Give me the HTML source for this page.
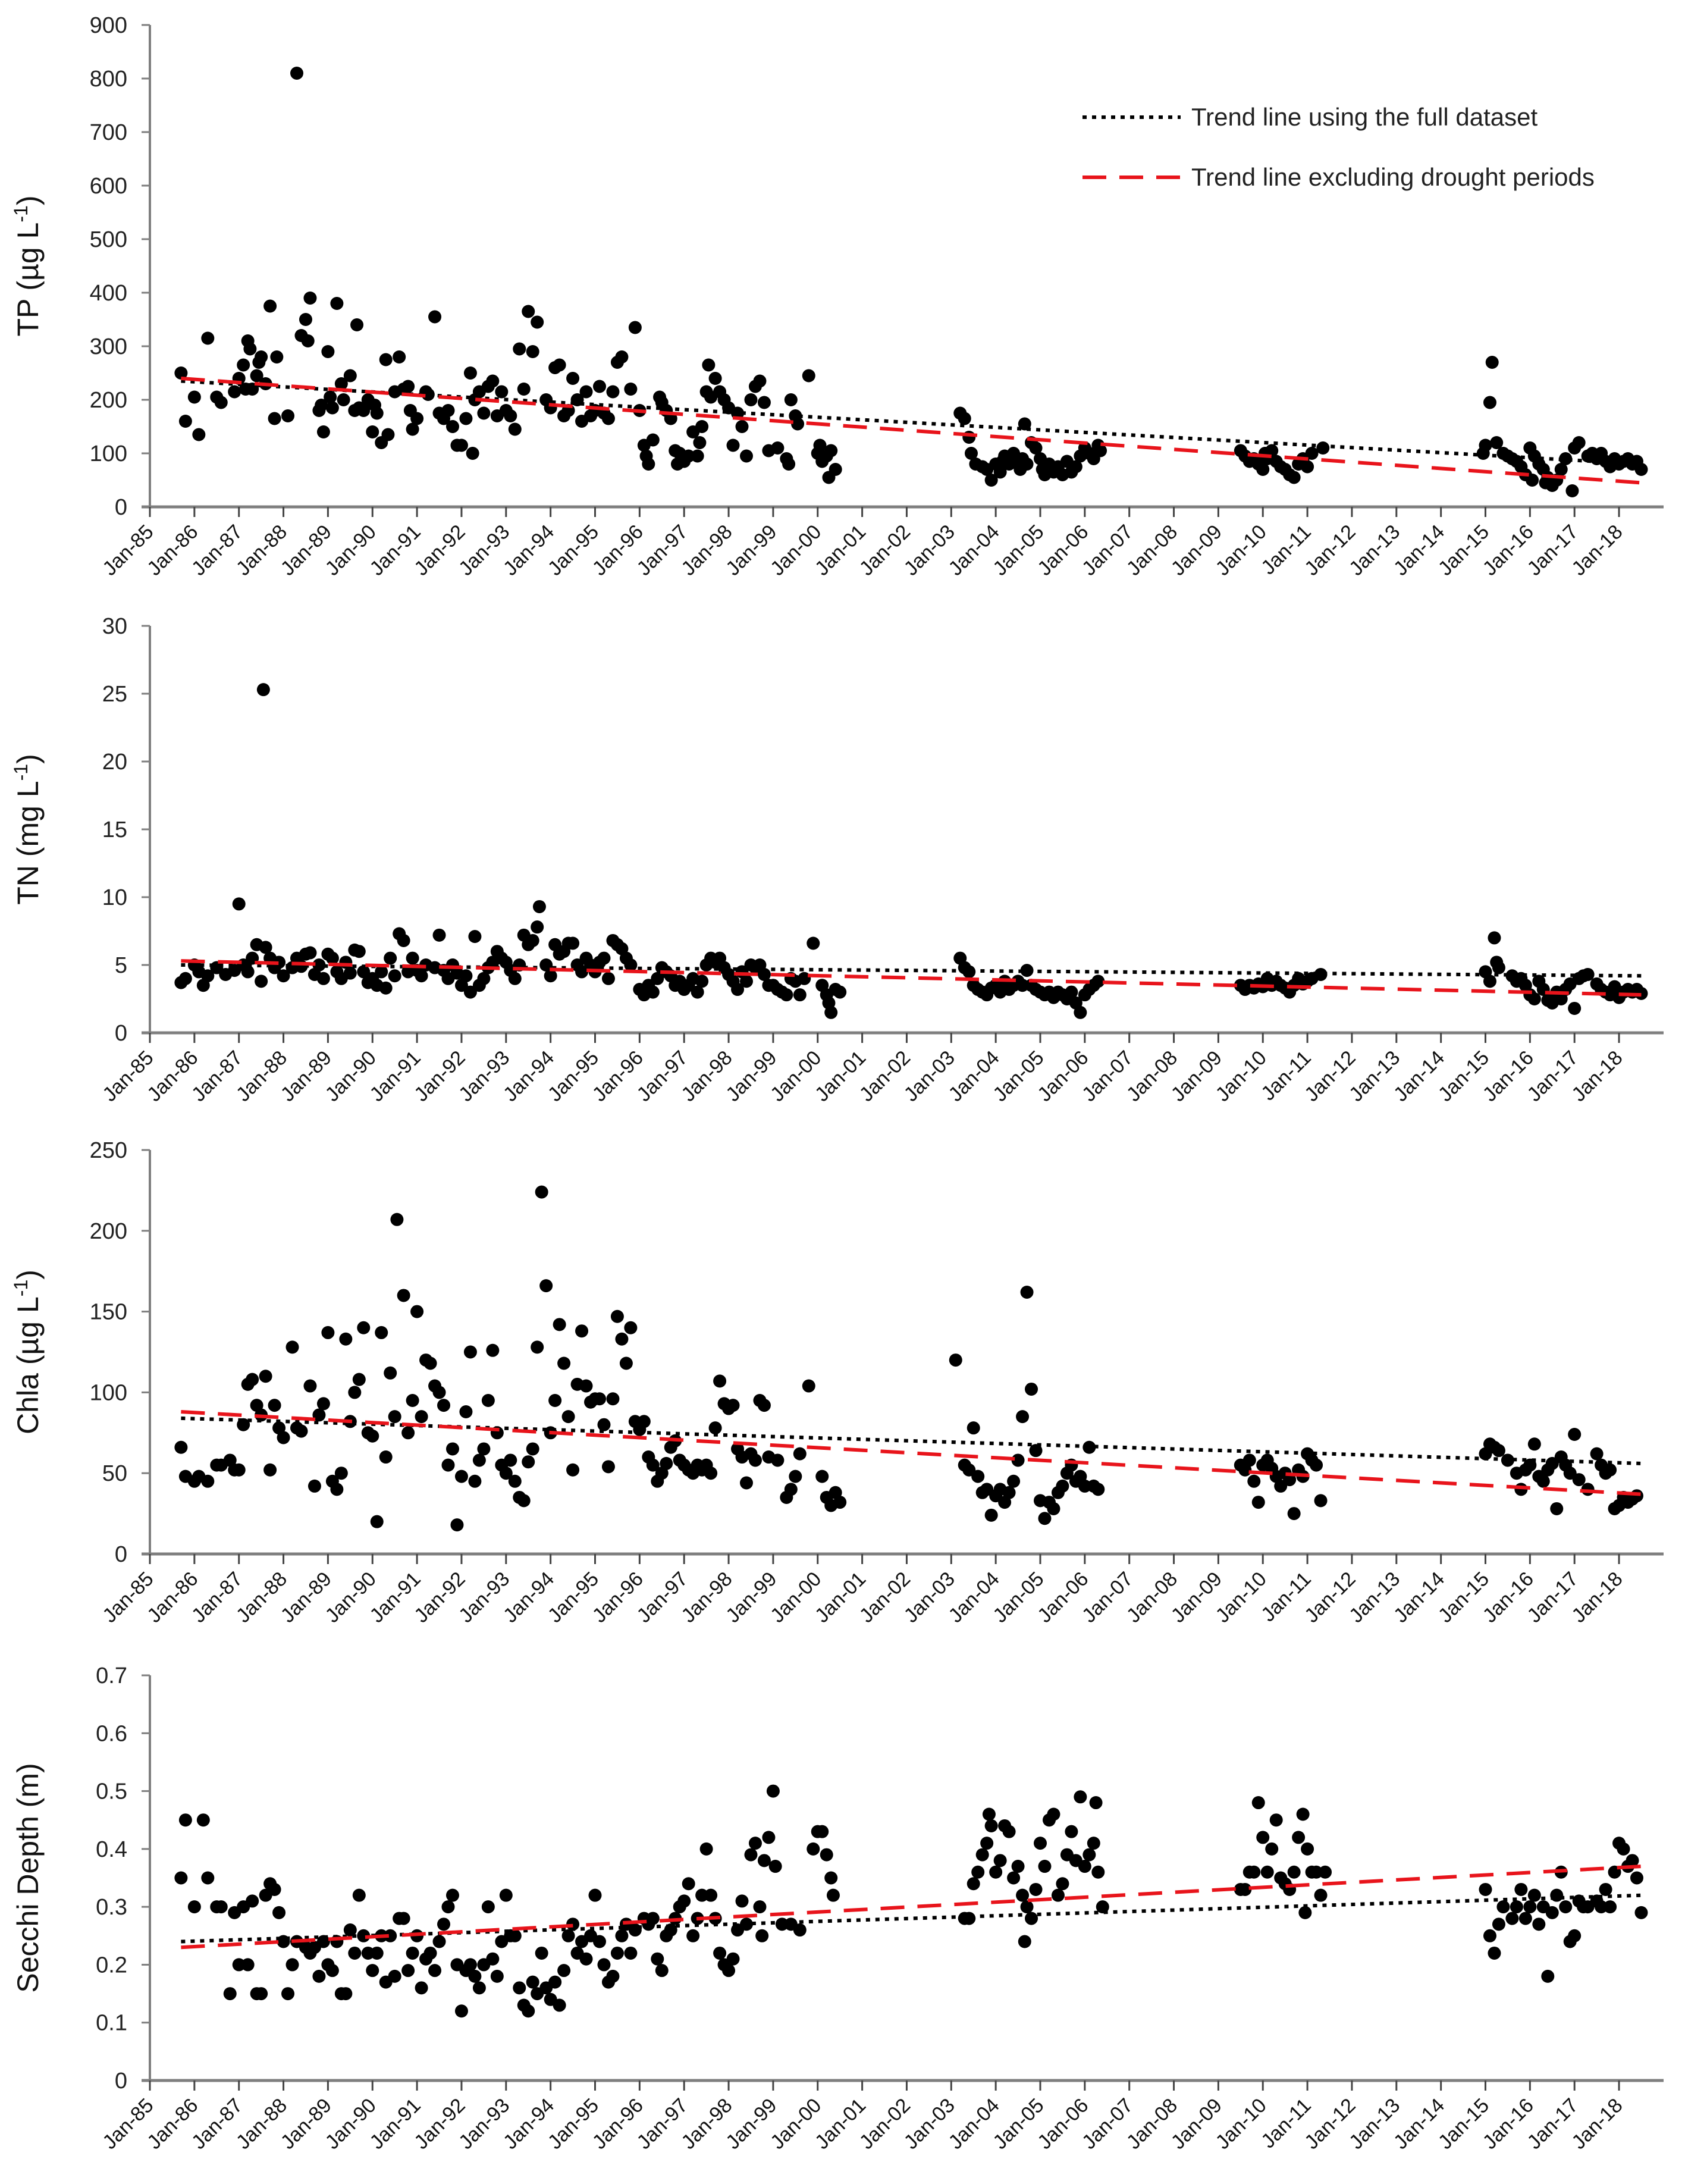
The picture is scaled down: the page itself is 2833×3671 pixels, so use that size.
<!DOCTYPE html>
<html><head><meta charset="utf-8"><style>
html,body{margin:0;padding:0;background:#fff}
svg{display:block}
text{font-family:"Liberation Sans",sans-serif}
</style></head><body>
<svg id="chart" width="2833" height="3671" viewBox="0 0 2833 3671" xmlns="http://www.w3.org/2000/svg">
<g id="legend">
<line x1="1820" y1="197" x2="1985" y2="197" stroke="#000" stroke-width="6" stroke-dasharray="7,9"/>
<text x="2003" y="211" font-size="42" fill="#222">Trend line using the full dataset</text>
<line x1="1820" y1="298" x2="1985" y2="298" stroke="#e8141b" stroke-width="6" stroke-dasharray="40,22"/>
<text x="2003" y="312" font-size="42" fill="#222">Trend line excluding drought periods</text>
</g>
</svg>
<script>
const years=['Jan-85','Jan-86','Jan-87','Jan-88','Jan-89','Jan-90','Jan-91','Jan-92','Jan-93','Jan-94','Jan-95','Jan-96','Jan-97','Jan-98','Jan-99','Jan-00','Jan-01','Jan-02','Jan-03','Jan-04','Jan-05','Jan-06','Jan-07','Jan-08','Jan-09','Jan-10','Jan-11','Jan-12','Jan-13','Jan-14','Jan-15','Jan-16','Jan-17','Jan-18'];

const tpData=[[1985.7,250],[1985.8,160],[1986.0,205],[1986.1,135],[1986.3,315],[1986.5,205],[1986.6,195],[1986.9,215],[1987.0,240],[1987.1,265],[1987.2,310],[1987.25,295],[1987.15,220],[1987.3,220],[1987.4,245],[1987.45,270],[1987.5,280],[1987.6,230],[1987.7,375],[1987.8,165],[1987.85,280],[1988.1,170],[1988.3,810],[1988.4,320],[1988.5,350],[1988.55,310],[1988.6,390],[1988.8,180],[1988.85,190],[1988.9,140],[1989.0,290],[1989.05,205],[1989.1,185],[1989.2,380],[1989.3,230],[1989.35,200],[1989.5,245],[1989.6,180],[1989.65,340],[1989.7,185],[1989.8,180],[1989.9,200],[1990.0,140],[1990.05,190],[1990.1,175],[1990.2,120],[1990.3,275],[1990.35,135],[1990.5,215],[1990.6,280],[1990.7,220],[1990.8,225],[1990.85,180],[1990.9,145],[1991.0,165],[1991.2,215],[1991.25,210],[1991.4,355],[1991.5,175],[1991.6,165],[1991.7,180],[1991.8,150],[1991.9,115],[1992.0,115],[1992.1,165],[1992.2,250],[1992.25,100],[1992.3,200],[1992.4,215],[1992.5,175],[1992.6,225],[1992.7,235],[1992.8,170],[1992.9,215],[1993.0,180],[1993.1,170],[1993.2,145],[1993.3,295],[1993.4,220],[1993.5,365],[1993.6,290],[1993.7,345],[1993.9,200],[1994.0,185],[1994.1,260],[1994.2,265],[1994.3,170],[1994.4,180],[1994.5,240],[1994.6,200],[1994.7,160],[1994.8,215],[1994.9,170],[1995.0,180],[1995.1,225],[1995.2,175],[1995.3,165],[1995.4,215],[1995.5,270],[1995.6,280],[1995.8,220],[1995.9,335],[1996.0,180],[1996.1,115],[1996.15,95],[1996.2,80],[1996.3,125],[1996.45,205],[1996.5,195],[1996.6,180],[1996.7,165],[1996.8,105],[1996.85,80],[1996.9,100],[1997.0,85],[1997.1,95],[1997.2,140],[1997.3,95],[1997.35,120],[1997.4,150],[1997.5,215],[1997.55,265],[1997.6,205],[1997.7,240],[1997.8,215],[1997.9,200],[1998.0,185],[1998.1,115],[1998.2,175],[1998.3,150],[1998.4,95],[1998.5,200],[1998.6,225],[1998.7,235],[1998.8,195],[1998.9,105],[1999.1,110],[1999.3,90],[1999.35,80],[1999.4,200],[1999.5,170],[1999.55,155],[1999.8,245],[2000.0,100],[2000.05,115],[2000.1,85],[2000.2,95],[2000.25,55],[2000.3,105],[2000.4,70],[2003.2,175],[2003.3,165],[2003.4,130],[2003.45,100],[2003.55,80],[2003.7,75],[2003.8,70],[2003.9,50],[2004.0,80],[2004.1,65],[2004.15,85],[2004.2,95],[2004.3,80],[2004.4,100],[2004.5,85],[2004.55,70],[2004.6,90],[2004.65,155],[2004.7,80],[2004.8,120],[2004.9,110],[2005.0,90],[2005.05,70],[2005.1,60],[2005.2,80],[2005.3,65],[2005.4,75],[2005.5,60],[2005.6,85],[2005.7,65],[2005.8,75],[2005.9,95],[2006.0,110],[2006.1,100],[2006.2,90],[2006.3,115],[2006.35,105],[2009.5,105],[2009.6,95],[2009.7,85],[2009.8,90],[2009.9,80],[2010.0,70],[2010.05,100],[2010.1,90],[2010.2,105],[2010.3,85],[2010.4,75],[2010.5,70],[2010.6,60],[2010.7,55],[2010.8,80],[2010.9,90],[2011.0,75],[2011.1,100],[2011.35,110],[2014.95,100],[2015.0,115],[2015.1,195],[2015.15,270],[2015.25,120],[2015.4,100],[2015.5,95],[2015.6,90],[2015.7,85],[2015.8,75],[2015.9,60],[2016.0,110],[2016.05,50],[2016.1,95],[2016.2,80],[2016.3,70],[2016.35,45],[2016.4,55],[2016.5,40],[2016.6,50],[2016.7,70],[2016.8,90],[2016.95,30],[2017.0,110],[2017.1,120],[2017.3,95],[2017.4,100],[2017.5,90],[2017.6,100],[2017.7,85],[2017.8,75],[2017.9,90],[2018.0,80],[2018.1,85],[2018.2,90],[2018.3,80],[2018.4,85],[2018.5,70]];

const tnData=[[1985.7,3.7],[1985.8,4.0],[1986.0,5.0],[1986.1,4.5],[1986.2,3.5],[1986.3,4.2],[1986.5,4.8],[1986.7,4.3],[1986.9,4.6],[1987.0,9.5],[1987.1,5.0],[1987.2,4.5],[1987.3,5.5],[1987.4,6.5],[1987.5,3.8],[1987.55,25.3],[1987.6,6.3],[1987.7,5.5],[1987.8,4.8],[1987.9,5.2],[1988.0,4.2],[1988.2,4.8],[1988.3,5.5],[1988.4,4.9],[1988.5,5.8],[1988.6,5.9],[1988.7,4.3],[1988.8,5.0],[1988.9,4.0],[1989.0,5.8],[1989.1,5.5],[1989.2,4.5],[1989.3,4.0],[1989.4,5.2],[1989.5,4.4],[1989.6,6.1],[1989.7,6.0],[1989.8,4.5],[1989.9,3.7],[1990.0,4.0],[1990.1,3.5],[1990.2,4.5],[1990.3,3.3],[1990.4,5.5],[1990.5,4.2],[1990.6,7.3],[1990.7,6.8],[1990.8,4.5],[1990.9,5.5],[1991.0,4.6],[1991.1,4.2],[1991.2,5.0],[1991.4,4.8],[1991.5,7.2],[1991.6,4.6],[1991.7,4.0],[1991.8,5.0],[1991.9,4.4],[1992.0,3.5],[1992.1,4.2],[1992.2,3.0],[1992.3,7.1],[1992.4,3.5],[1992.5,4.0],[1992.6,4.8],[1992.7,5.2],[1992.8,6.0],[1992.9,5.5],[1993.0,5.2],[1993.1,4.6],[1993.2,4.0],[1993.3,5.0],[1993.4,7.2],[1993.5,6.5],[1993.6,6.8],[1993.7,7.8],[1993.75,9.3],[1993.9,5.0],[1994.0,4.2],[1994.1,6.5],[1994.2,5.8],[1994.3,6.0],[1994.4,6.6],[1994.5,6.6],[1994.6,5.0],[1994.7,4.5],[1994.8,5.5],[1994.9,5.0],[1995.0,4.5],[1995.1,5.2],[1995.2,5.5],[1995.3,4.0],[1995.4,6.8],[1995.5,6.5],[1995.6,6.2],[1995.7,5.5],[1995.8,5.0],[1996.0,3.2],[1996.1,2.8],[1996.2,3.5],[1996.3,3.0],[1996.4,4.0],[1996.5,4.8],[1996.6,4.5],[1996.7,4.2],[1996.8,3.5],[1996.9,3.8],[1997.0,3.2],[1997.1,3.5],[1997.2,4.0],[1997.3,3.0],[1997.4,3.8],[1997.5,5.0],[1997.6,5.5],[1997.7,5.2],[1997.8,5.5],[1997.9,4.8],[1998.0,4.3],[1998.1,3.8],[1998.2,3.2],[1998.3,4.5],[1998.4,3.8],[1998.5,5.0],[1998.6,4.8],[1998.7,5.0],[1998.8,4.3],[1998.9,3.5],[1999.0,3.5],[1999.1,3.2],[1999.2,3.0],[1999.3,2.8],[1999.4,4.0],[1999.5,3.8],[1999.6,2.8],[1999.7,4.0],[1999.9,6.6],[2000.1,3.5],[2000.2,2.8],[2000.25,2.2],[2000.3,1.5],[2000.4,3.2],[2000.5,3.0],[2003.2,5.5],[2003.3,4.8],[2003.4,4.5],[2003.5,3.5],[2003.6,3.2],[2003.7,3.0],[2003.8,2.8],[2003.9,3.3],[2004.0,3.5],[2004.1,3.0],[2004.2,3.8],[2004.3,3.2],[2004.4,3.5],[2004.5,3.8],[2004.6,3.5],[2004.7,4.6],[2004.8,3.5],[2004.9,3.2],[2005.0,3.0],[2005.1,2.8],[2005.2,3.0],[2005.3,2.6],[2005.4,3.0],[2005.5,2.8],[2005.6,2.5],[2005.7,3.0],[2005.8,2.2],[2005.9,1.5],[2006.0,2.8],[2006.1,3.2],[2006.2,3.5],[2006.3,3.8],[2009.5,3.5],[2009.6,3.2],[2009.7,3.5],[2009.8,3.3],[2009.9,3.6],[2010.0,3.4],[2010.1,4.0],[2010.2,3.5],[2010.3,3.8],[2010.4,3.5],[2010.5,3.3],[2010.6,3.0],[2010.7,3.5],[2010.8,4.0],[2010.9,3.6],[2011.0,3.8],[2011.1,4.0],[2011.3,4.3],[2015.0,4.5],[2015.1,3.8],[2015.2,7.0],[2015.25,5.2],[2015.3,4.8],[2015.6,4.2],[2015.7,3.8],[2015.8,4.0],[2015.9,3.5],[2016.0,2.8],[2016.1,2.5],[2016.2,3.8],[2016.3,3.2],[2016.4,2.4],[2016.5,2.2],[2016.6,3.0],[2016.7,2.5],[2016.8,3.2],[2016.9,3.6],[2017.0,1.8],[2017.1,4.0],[2017.2,4.2],[2017.3,4.3],[2017.5,3.6],[2017.6,3.2],[2017.7,3.0],[2017.8,2.8],[2017.9,3.4],[2018.0,2.6],[2018.1,3.0],[2018.2,3.2],[2018.3,3.0],[2018.4,3.2],[2018.5,2.9]];

const chlaData=[[1985.7,66],[1985.8,48],[1986.0,45],[1986.1,48],[1986.3,45],[1986.5,55],[1986.6,55],[1986.8,58],[1986.9,52],[1987.0,52],[1987.1,80],[1987.2,105],[1987.3,108],[1987.4,92],[1987.5,86],[1987.6,110],[1987.7,52],[1987.8,92],[1987.9,78],[1988.0,72],[1988.2,128],[1988.3,78],[1988.4,76],[1988.6,104],[1988.7,42],[1988.8,86],[1988.9,93],[1989.0,137],[1989.1,45],[1989.2,40],[1989.3,50],[1989.4,133],[1989.5,82],[1989.6,100],[1989.7,108],[1989.8,140],[1989.9,75],[1990.0,73],[1990.1,20],[1990.2,137],[1990.3,60],[1990.4,112],[1990.5,85],[1990.55,207],[1990.7,160],[1990.8,75],[1990.9,95],[1991.0,150],[1991.1,85],[1991.2,120],[1991.3,118],[1991.4,104],[1991.5,100],[1991.6,92],[1991.7,55],[1991.8,65],[1991.9,18],[1992.0,48],[1992.1,88],[1992.2,125],[1992.3,45],[1992.4,58],[1992.5,65],[1992.6,95],[1992.7,126],[1992.8,75],[1992.9,55],[1993.0,50],[1993.1,58],[1993.2,45],[1993.3,35],[1993.4,33],[1993.5,57],[1993.6,65],[1993.7,128],[1993.8,224],[1993.9,166],[1994.0,75],[1994.1,95],[1994.2,142],[1994.3,118],[1994.4,85],[1994.5,52],[1994.6,105],[1994.7,138],[1994.8,104],[1994.9,94],[1995.0,96],[1995.1,96],[1995.2,80],[1995.3,54],[1995.4,96],[1995.5,147],[1995.6,133],[1995.7,118],[1995.8,140],[1995.9,82],[1996.0,77],[1996.1,82],[1996.2,60],[1996.3,55],[1996.4,45],[1996.5,50],[1996.6,56],[1996.7,66],[1996.8,70],[1996.9,58],[1997.0,55],[1997.1,52],[1997.2,50],[1997.3,55],[1997.4,52],[1997.5,55],[1997.6,50],[1997.7,78],[1997.8,107],[1997.9,93],[1998.0,90],[1998.1,92],[1998.2,65],[1998.3,60],[1998.4,44],[1998.5,62],[1998.6,58],[1998.7,95],[1998.8,92],[1998.9,60],[1999.1,58],[1999.3,35],[1999.4,40],[1999.5,48],[1999.6,62],[1999.8,104],[2000.1,48],[2000.2,35],[2000.3,30],[2000.4,38],[2000.5,32],[2003.1,120],[2003.3,55],[2003.4,52],[2003.5,78],[2003.6,48],[2003.7,38],[2003.8,40],[2003.9,24],[2004.0,36],[2004.1,40],[2004.2,32],[2004.3,38],[2004.4,45],[2004.5,58],[2004.6,85],[2004.7,162],[2004.8,102],[2004.9,64],[2005.0,33],[2005.1,22],[2005.2,32],[2005.3,28],[2005.4,38],[2005.5,42],[2005.6,50],[2005.7,55],[2005.8,45],[2005.9,48],[2006.0,42],[2006.1,66],[2006.2,42],[2006.3,40],[2009.5,55],[2009.6,52],[2009.7,58],[2009.8,45],[2009.9,32],[2010.0,55],[2010.1,58],[2010.2,53],[2010.3,48],[2010.4,42],[2010.5,50],[2010.6,46],[2010.7,25],[2010.8,52],[2010.9,48],[2011.0,62],[2011.1,58],[2011.2,55],[2011.3,33],[2015.0,62],[2015.1,68],[2015.2,66],[2015.3,64],[2015.5,58],[2015.7,50],[2015.8,40],[2015.9,52],[2016.0,55],[2016.1,68],[2016.2,48],[2016.3,45],[2016.4,52],[2016.5,56],[2016.6,28],[2016.7,60],[2016.8,55],[2016.9,50],[2017.0,74],[2017.1,46],[2017.3,40],[2017.5,62],[2017.6,55],[2017.7,50],[2017.8,52],[2017.9,28],[2018.0,30],[2018.1,35],[2018.2,32],[2018.3,34],[2018.4,36]];

const secchiData=[[1985.7,0.35],[1985.8,0.45],[1986.0,0.30],[1986.2,0.45],[1986.3,0.35],[1986.5,0.30],[1986.6,0.30],[1986.8,0.15],[1986.9,0.29],[1987.0,0.20],[1987.1,0.30],[1987.2,0.20],[1987.3,0.31],[1987.4,0.15],[1987.5,0.15],[1987.6,0.32],[1987.7,0.34],[1987.8,0.33],[1987.9,0.29],[1988.0,0.24],[1988.1,0.15],[1988.2,0.20],[1988.3,0.24],[1988.5,0.23],[1988.6,0.22],[1988.7,0.23],[1988.8,0.18],[1988.9,0.24],[1989.0,0.20],[1989.1,0.19],[1989.2,0.24],[1989.3,0.15],[1989.4,0.15],[1989.5,0.26],[1989.6,0.22],[1989.7,0.32],[1989.8,0.25],[1989.9,0.22],[1990.0,0.19],[1990.1,0.22],[1990.2,0.25],[1990.3,0.17],[1990.4,0.25],[1990.5,0.18],[1990.6,0.28],[1990.7,0.28],[1990.8,0.19],[1990.9,0.22],[1991.0,0.25],[1991.1,0.16],[1991.2,0.21],[1991.3,0.22],[1991.4,0.19],[1991.5,0.24],[1991.6,0.27],[1991.7,0.30],[1991.8,0.32],[1991.9,0.20],[1992.0,0.12],[1992.1,0.19],[1992.2,0.20],[1992.3,0.18],[1992.4,0.16],[1992.5,0.20],[1992.6,0.30],[1992.7,0.21],[1992.8,0.18],[1992.9,0.24],[1993.0,0.32],[1993.1,0.25],[1993.2,0.25],[1993.3,0.16],[1993.4,0.13],[1993.5,0.12],[1993.6,0.17],[1993.7,0.15],[1993.8,0.22],[1993.9,0.16],[1994.0,0.14],[1994.1,0.17],[1994.2,0.13],[1994.3,0.19],[1994.4,0.25],[1994.5,0.27],[1994.6,0.22],[1994.7,0.24],[1994.8,0.21],[1994.9,0.25],[1995.0,0.32],[1995.1,0.24],[1995.2,0.20],[1995.3,0.17],[1995.4,0.18],[1995.5,0.22],[1995.6,0.25],[1995.7,0.27],[1995.8,0.22],[1995.9,0.26],[1996.1,0.28],[1996.2,0.27],[1996.3,0.28],[1996.4,0.21],[1996.5,0.19],[1996.6,0.25],[1996.7,0.26],[1996.8,0.28],[1996.9,0.30],[1997.0,0.31],[1997.1,0.34],[1997.2,0.25],[1997.3,0.28],[1997.4,0.32],[1997.5,0.40],[1997.6,0.32],[1997.7,0.28],[1997.8,0.22],[1997.9,0.20],[1998.0,0.19],[1998.1,0.21],[1998.2,0.26],[1998.3,0.31],[1998.4,0.27],[1998.5,0.39],[1998.6,0.41],[1998.7,0.30],[1998.75,0.25],[1998.8,0.38],[1998.9,0.42],[1999.0,0.50],[1999.05,0.37],[1999.2,0.27],[1999.4,0.27],[1999.6,0.26],[1999.9,0.40],[2000.0,0.43],[2000.1,0.43],[2000.2,0.39],[2000.3,0.35],[2000.35,0.32],[2003.3,0.28],[2003.4,0.28],[2003.5,0.34],[2003.6,0.36],[2003.7,0.39],[2003.8,0.41],[2003.85,0.46],[2003.9,0.44],[2004.0,0.36],[2004.1,0.38],[2004.2,0.44],[2004.3,0.43],[2004.4,0.35],[2004.5,0.37],[2004.6,0.32],[2004.65,0.24],[2004.7,0.30],[2004.8,0.28],[2004.9,0.33],[2005.0,0.41],[2005.1,0.37],[2005.2,0.45],[2005.3,0.46],[2005.4,0.32],[2005.5,0.34],[2005.6,0.39],[2005.7,0.43],[2005.8,0.38],[2005.9,0.49],[2006.0,0.37],[2006.1,0.39],[2006.2,0.41],[2006.25,0.48],[2006.3,0.36],[2006.4,0.30],[2009.5,0.33],[2009.6,0.33],[2009.7,0.36],[2009.8,0.36],[2009.9,0.48],[2010.0,0.42],[2010.1,0.36],[2010.2,0.40],[2010.3,0.45],[2010.4,0.35],[2010.5,0.34],[2010.6,0.33],[2010.7,0.36],[2010.8,0.42],[2010.9,0.46],[2010.95,0.29],[2011.0,0.40],[2011.1,0.36],[2011.2,0.36],[2011.3,0.32],[2011.4,0.36],[2015.0,0.33],[2015.1,0.25],[2015.2,0.22],[2015.3,0.27],[2015.4,0.30],[2015.6,0.28],[2015.7,0.30],[2015.8,0.33],[2015.9,0.28],[2016.0,0.30],[2016.1,0.32],[2016.2,0.27],[2016.3,0.30],[2016.4,0.18],[2016.5,0.29],[2016.6,0.32],[2016.7,0.36],[2016.8,0.30],[2016.9,0.24],[2017.0,0.25],[2017.1,0.31],[2017.2,0.30],[2017.3,0.30],[2017.5,0.31],[2017.6,0.30],[2017.7,0.33],[2017.8,0.30],[2017.9,0.36],[2018.0,0.41],[2018.1,0.40],[2018.2,0.37],[2018.3,0.38],[2018.4,0.35],[2018.5,0.29]];

const tpTrendFull=[1985.7,235,2018.5,80];
const tpTrendExcl=[1985.7,240,2018.5,45];
const tnTrendFull=[1985.7,5.0,2018.5,4.2];
const tnTrendExcl=[1985.7,5.3,2018.5,2.8];
const chlaTrendFull=[1985.7,84,2018.5,56];
const chlaTrendExcl=[1985.7,88,2018.5,37];
const secchiTrendFull=[1985.7,0.24,2018.5,0.32];
const secchiTrendExcl=[1985.7,0.23,2018.5,0.37];

const tpTicks=[0,100,200,300,400,500,600,700,800,900];
const tnTicks=[0,5,10,15,20,25,30];
const chlaTicks=[0,50,100,150,200,250];
const secchiTicks=['0','0.1','0.2','0.3','0.4','0.5','0.6','0.7'];

const NS='http://www.w3.org/2000/svg';
const svg=document.getElementById('chart');
function mk(tag,attrs,parent){const e=document.createElementNS(NS,tag);for(const k in attrs)e.setAttribute(k,attrs[k]);(parent||svg).appendChild(e);return e;}
const X0=252, PX_YR=74.85, XEND=2797;
function xs(yr){return X0+(yr-1985)*PX_YR;}

function panel(key,title,yTop,yBot,ticks,data,trendF,trendE){
  const max=parseFloat(ticks[ticks.length-1]);
  const ys=v=>yBot-(v/max)*(yBot-yTop);
  const g=mk('g',{});
  
  
  const ya=mk('line',{x1:X0,y1:yTop,x2:X0,y2:yBot,stroke:'#7f7f7f','stroke-width':4},g);
  
  
  ticks.forEach(t=>{
    const v=parseFloat(t);
    const tk=mk('line',{x1:X0-14,y1:ys(v),x2:X0,y2:ys(v),stroke:'#7f7f7f','stroke-width':3},g);
    
    
    const tl=mk('text',{x:X0-38,y:ys(v)+13,'font-size':38,'text-anchor':'end',fill:'#222'},g);
    tl.textContent=t;
    
    
  });
  const xa=mk('line',{x1:X0-14,y1:yBot,x2:XEND,y2:yBot,stroke:'#7f7f7f','stroke-width':5},g);
  
  
  years.forEach((lab,i)=>{
    const x=xs(1985+i);
    const tk=mk('line',{x1:x,y1:yBot,x2:x,y2:yBot+17,stroke:'#444','stroke-width':3},g);
    
    
    const tl=mk('text',{x:x+8,y:yBot+44,'font-size':34,'text-anchor':'end',fill:'#111',transform:`rotate(-45 ${x+8} ${yBot+44})`},g);
    tl.textContent=lab;
    
    
  });
  const cy=(yTop+yBot)/2;
  const at=mk('text',{x:64,y:cy,'font-size':50,'text-anchor':'middle',fill:'#111',transform:`rotate(-90 64 ${cy})`},g);
  at.innerHTML=title;
  
  
  data.forEach(d=>{
    const c=mk('circle',{cx:xs(d[0]),cy:ys(d[1]),r:11,fill:'#000'},g);
    
    
  });
  const lf=mk('line',{x1:xs(trendF[0]),y1:ys(trendF[1]),x2:xs(trendF[2]),y2:ys(trendF[3]),stroke:'#000','stroke-width':6,'stroke-dasharray':'7,9'},g);
  
  
  const le=mk('line',{x1:xs(trendE[0]),y1:ys(trendE[1]),x2:xs(trendE[2]),y2:ys(trendE[3]),stroke:'#e8141b','stroke-width':6,'stroke-dasharray':'40,22'},g);
  
  
}
panel('tp','TP (µg L<tspan dy="-18" font-size="32">-1</tspan><tspan dy="18">)</tspan>',42,852,tpTicks,tpData,tpTrendFull,tpTrendExcl);
panel('tn','TN (mg L<tspan dy="-18" font-size="32">-1</tspan><tspan dy="18">)</tspan>',1052,1736,tnTicks,tnData,tnTrendFull,tnTrendExcl);
panel('chla','Chla  (µg L<tspan dy="-18" font-size="32">-1</tspan><tspan dy="18">)</tspan>',1933,2612,chlaTicks,chlaData,chlaTrendFull,chlaTrendExcl);
panel('secchi','Secchi Depth (m)',2816,3497,secchiTicks,secchiData,secchiTrendFull,secchiTrendExcl);
</script>
</body></html>
